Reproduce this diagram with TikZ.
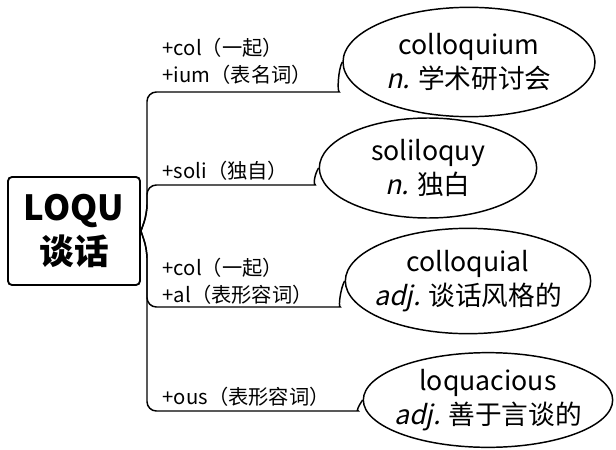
\documentclass[tikz,border=0pt]{standalone}
\usepackage{fontspec}
\setmainfont{Noto Sans CJK SC}
\newfontfamily\slfont{Noto Sans CJK SC}[FakeSlant=0.22]
\usetikzlibrary{shapes.geometric}

\begin{document}
\begin{tikzpicture}[x=0.75pt,y=-0.75pt,line width=1.1pt,
    rootbox/.style={draw,rounded corners=3pt,line width=1.4pt,
        minimum width=99pt,minimum height=81pt,inner sep=0pt,
        align=center,font=\fontsize{26}{33}\selectfont\bfseries},
    wordell/.style={draw,ellipse,inner sep=0pt},
    word/.style={align=center,inner sep=0pt,
        font=\fontsize{20}{26}\selectfont},
    affix/.style={anchor=west,align=left,inner sep=0pt,
        font=\fontsize{15.2}{20}\selectfont},
    branch/.style={rounded corners=7pt}]
    \useasboundingbox (0,0) rectangle (616,449);

    \node[rootbox] (root) at (74,231) {LOQU\\谈话};

    \node[wordell,minimum width=189pt,minimum height=82pt] (w1) at (469,62) {};
    \node[wordell,minimum width=163pt,minimum height=75pt] (w2) at (428,168) {};
    \node[wordell,minimum width=184pt,minimum height=79pt] (w3) at (468,281) {};
    \node[wordell,minimum width=187pt,minimum height=71pt] (w4) at (488,400) {};
    \node[word] (t1) at (w1) {colloquium\\{\slfont n.} 学术研讨会};
    \node[word] (t2) at (w2) {soliloquy\\{\slfont n.} 独白};
    \node[word] (t3) at (w3) {colloquial\\{\slfont adj.} 谈话风格的};
    \node[word] (t4) at (w4) {loquacious\\{\slfont adj.} 善于言谈的};

    \node[affix] (a1) at (162,61) {+col（一起）\\+ium（表名词）};
    \node[affix] (a2) at (162,171) {+soli（独自）};
    \node[affix] (a3) at (162,281) {+col（一起）\\+al（表形容词）};
    \node[affix] (a4) at (162,397) {+ous（表形容词）};

    % fork points and ends of the branch lines
    \coordinate (up) at (147,214);
    \coordinate (dn) at (147,249);
    \coordinate (b1e) at (330,92);
    \coordinate (b2e) at (306,185);
    \coordinate (b3e) at (331,307);
    \coordinate (b4e) at (349,411);

    \draw[branch] (root.east) -- (up) -- (147,92) -- (b1e)
        .. controls +(7,0) and +(-4,7) .. (w1.west);
    \draw[branch] (root.east) -- (up) -- (147,185) -- (b2e)
        .. controls +(7,0) and +(-4,6) .. (w2.west);
    \draw[branch] (root.east) -- (dn) -- (147,307) -- (b3e)
        .. controls +(7,0) and +(-4,7) .. (w3.west);
    \draw[branch] (root.east) -- (dn) -- (147,411) -- (b4e)
        .. controls +(7,0) and +(-4,6) .. (w4.west);
\end{tikzpicture}
\end{document}
